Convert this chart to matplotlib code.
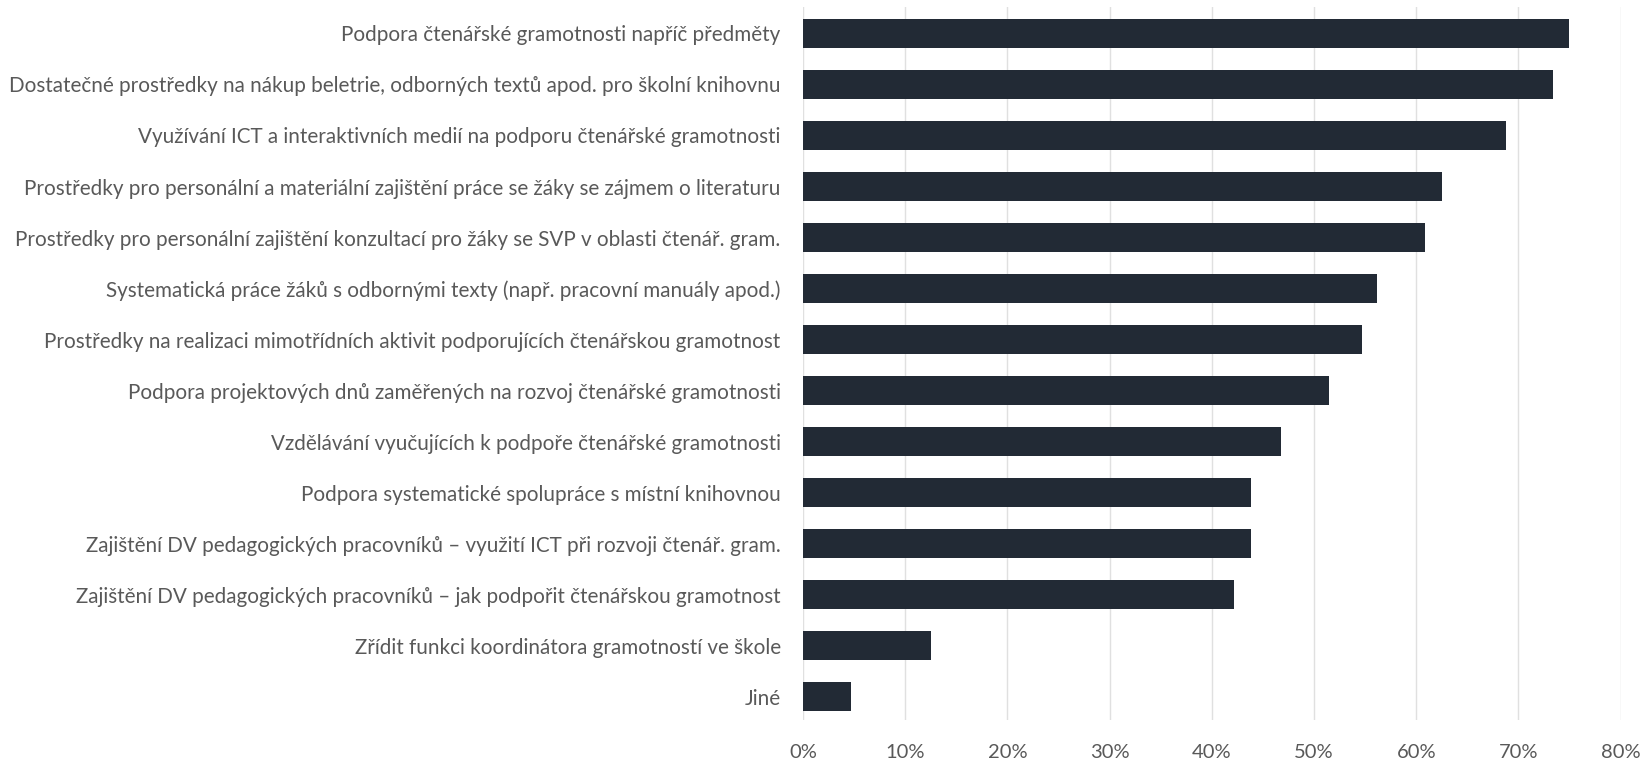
import matplotlib.pyplot as plt
from matplotlib.ticker import FuncFormatter, MultipleLocator

categories = [
    "Podpora čtenářské gramotnosti napříč předměty",
    "Dostatečné prostředky na nákup beletrie, odborných textů apod. pro školní knihovnu",
    "Využívání ICT a interaktivních medií na podporu čtenářské gramotnosti",
    "Prostředky pro personální a materiální zajištění práce se žáky se zájmem o literaturu",
    "Prostředky pro personální zajištění konzultací pro žáky se SVP v oblasti čtenář. gram.",
    "Systematická práce žáků s odbornými texty (např. pracovní manuály apod.)",
    "Prostředky na realizaci mimotřídních aktivit podporujících čtenářskou gramotnost",
    "Podpora projektových dnů zaměřených na rozvoj čtenářské gramotnosti",
    "Vzdělávání vyučujících k podpoře čtenářské gramotnosti",
    "Podpora systematické spolupráce s místní knihovnou",
    "Zajištění DV pedagogických pracovníků – využití ICT při rozvoji čtenář. gram.",
    "Zajištění DV pedagogických pracovníků – jak podpořit čtenářskou gramotnost",
    "Zřídit funkci koordinátora gramotností ve škole",
    "Jiné",
]
values = [74.9, 73.4, 68.8, 62.5, 60.9, 56.2, 54.7, 51.5, 46.8, 43.8, 43.8, 42.2, 12.5, 4.7]

bar_color = "#222a35"
text_color = "#595959"
grid_color = "#e0e0e0"

plt.rcParams['font.family'] = ['Lato', 'DejaVu Sans']

fig = plt.figure(figsize=(16.42, 7.61), dpi=100)
ax = fig.add_axes([0.489, 0.054, 0.498, 0.937])

ypos = list(range(len(categories)))
ax.barh(ypos, values, height=0.57, color=bar_color, zorder=3)

ax.set_xlim(0, 80)
ax.set_ylim(13.45, -0.52)
ax.set_yticks(ypos)
ax.set_yticklabels(categories, fontsize=14.9, color=text_color)
ax.xaxis.set_major_locator(MultipleLocator(10))
ax.xaxis.set_major_formatter(FuncFormatter(lambda v, p: f"{v:.0f}%"))
ax.tick_params(axis='x', labelsize=14.5, labelcolor=text_color, length=0, pad=17)
ax.tick_params(axis='y', length=0, pad=16)

ax.grid(axis='x', color=grid_color, linewidth=1, zorder=0)
for s in ax.spines.values():
    s.set_visible(False)

fig.savefig("out.png", dpi=100)
